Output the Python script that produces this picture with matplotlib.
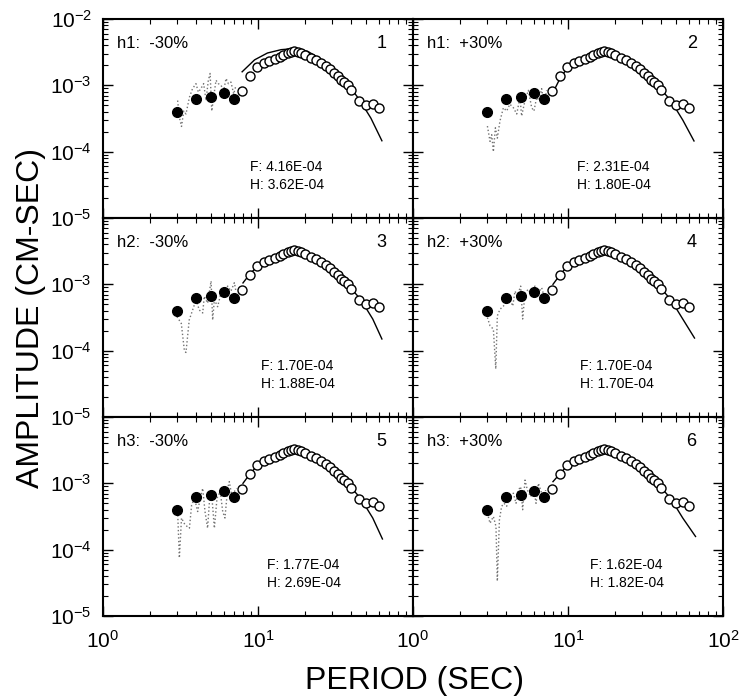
import matplotlib
matplotlib.use("Agg")
import matplotlib.pyplot as plt
from matplotlib.ticker import LogLocator, NullFormatter

plt.rcParams['font.family'] = ['Liberation Sans', 'DejaVu Sans']
plt.rcParams['mathtext.default'] = 'regular'

# observed spectrum (same in every panel)
filled_period = [3, 4, 5, 6, 7]
filled_amp = [3.9e-4, 6.3e-4, 6.6e-4, 7.7e-4, 6.3e-4]

open_period = [7.9, 8.9, 9.9, 10.9, 11.8, 12.8, 13.8, 14.6, 15.5, 16.3, 17.1, 18.0,
               19.0, 20.2, 22.0, 23.7, 25.5, 27.4, 29.3, 31.1, 32.6, 34.3, 36.0, 37.9,
               39.8, 45.0, 50.0, 55.0, 60.5]
open_amp = [8.1e-4, 1.37e-3, 1.91e-3, 2.15e-3, 2.34e-3, 2.48e-3, 2.67e-3, 2.90e-3,
            3.07e-3, 3.18e-3, 3.26e-3, 3.22e-3, 3.07e-3, 2.90e-3, 2.57e-3, 2.37e-3,
            2.15e-3, 1.96e-3, 1.76e-3, 1.55e-3, 1.37e-3, 1.22e-3, 1.12e-3, 1.0e-3,
            8.6e-4, 5.9e-4, 5.0e-4, 5.2e-4, 4.6e-4]

# model curves (solid)
model_p1 = [7.9, 9.5, 11.5, 14.1, 17.1, 20.9, 28.2, 37.9, 45.5, 53.5, 63.0]
model_a1 = [1.6e-3, 2.42e-3, 3.07e-3, 3.45e-3, 3.58e-3, 3.26e-3, 2.15e-3, 1.06e-3,
            5.9e-4, 3.2e-4, 1.46e-4]
model_p2 = [8.0, 9.0, 10.0, 11.5, 13.5, 16.0, 17.5, 19.0, 22.0, 26.0, 30.0, 35.0,
            40.0, 46.0, 55.0, 65.0]
model_a2 = [7.8e-4, 1.35e-3, 1.85e-3, 2.3e-3, 2.7e-3, 3.1e-3, 3.25e-3, 3.1e-3,
            2.6e-3, 2.05e-3, 1.6e-3, 1.15e-3, 8.6e-4, 5.9e-4, 3.0e-4, 1.45e-4]
model_p3 = [8.0, 8.9, 10.0, 11.5, 13.5, 16.0, 17.5, 19.0, 22.0, 26.0, 30.0, 35.0,
            40.0, 46.0, 55.0, 63.0]
model_a3 = [1.05e-3, 1.45e-3, 1.9e-3, 2.3e-3, 2.7e-3, 3.1e-3, 3.2e-3, 3.1e-3,
            2.6e-3, 2.05e-3, 1.6e-3, 1.15e-3, 8.6e-4, 5.9e-4, 3.0e-4, 1.5e-4]
model_p4 = [8.0, 9.1, 10.0, 11.5, 13.5, 16.0, 17.5, 19.0, 22.0, 26.0, 30.0, 35.0,
            40.0, 46.0, 55.0, 65.5]
model_a4 = [1.0e-3, 1.5e-3, 1.9e-3, 2.3e-3, 2.7e-3, 3.1e-3, 3.2e-3, 3.1e-3,
            2.6e-3, 2.05e-3, 1.6e-3, 1.15e-3, 8.6e-4, 5.9e-4, 3.0e-4, 1.55e-4]
model_p5 = [8.0, 8.9, 10.0, 11.5, 13.5, 16.0, 17.5, 19.0, 22.0, 26.0, 30.0, 35.0,
            40.0, 46.0, 55.0, 63.5]
model_a5 = [1.0e-3, 1.4e-3, 1.9e-3, 2.3e-3, 2.7e-3, 3.1e-3, 3.2e-3, 3.1e-3,
            2.6e-3, 2.05e-3, 1.6e-3, 1.15e-3, 8.6e-4, 5.9e-4, 3.0e-4, 1.45e-4]
model_p6 = [8.0, 9.0, 10.0, 11.5, 13.5, 16.0, 17.5, 19.0, 22.0, 26.0, 30.0, 35.0,
            40.0, 46.0, 55.0, 66.5]
model_a6 = [1.06e-3, 1.45e-3, 1.9e-3, 2.3e-3, 2.7e-3, 3.1e-3, 3.2e-3, 3.1e-3,
            2.6e-3, 2.05e-3, 1.6e-3, 1.15e-3, 8.6e-4, 5.9e-4, 3.0e-4, 1.58e-4]

# synthetic short-period spectrum (dotted)
dot_p1 = [3.03, 3.11, 3.21, 3.32, 3.43, 3.61, 3.78, 3.98, 4.12, 4.28, 4.46, 4.62,
          4.78, 4.91, 5.03, 5.17, 5.36, 5.55, 5.77, 6.01, 6.22, 6.44, 6.69, 6.97, 7.21]
dot_a1 = [5.9e-4, 3.3e-4, 2.4e-4, 4.1e-4, 3.7e-4, 6.6e-4, 8.9e-4, 1.06e-3, 7.9e-4,
          8.9e-4, 1.06e-3, 5.9e-4, 1.19e-3, 1.51e-3, 4.1e-4, 6.6e-4, 1.19e-3, 1.06e-3,
          1.0e-3, 8.4e-4, 1.27e-3, 1.06e-3, 1.12e-3, 7.4e-4, 1.0e-3]
dot_p2 = [3.02, 3.14, 3.22, 3.30, 3.40, 3.50, 3.64, 3.83, 4.02, 4.22, 4.44, 4.67,
          4.90, 5.02, 5.28, 5.55, 5.83, 6.03, 6.28, 6.50, 6.76, 7.00, 7.28]
dot_a2 = [2.43e-4, 1.43e-4, 1.8e-4, 1.0e-4, 2.29e-4, 1.6e-4, 2.9e-4, 4.6e-4, 4.1e-4,
          5.2e-4, 4.6e-4, 3.7e-4, 6.6e-4, 3.45e-4, 5.9e-4, 8.4e-4, 4.6e-4, 4.1e-4,
          6.6e-4, 5.9e-4, 8.9e-4, 5.2e-4, 8.4e-4]
dot_p3 = [3.0, 3.2, 3.35, 3.43, 3.6, 3.85, 3.98, 4.18, 4.4, 4.5, 4.73, 4.98, 5.1,
          5.23, 5.49, 5.77, 6.06, 6.37, 6.69, 7.04, 7.2]
dot_a3 = [3.26e-4, 2.57e-4, 1.0e-4, 9.4e-5, 2.9e-4, 4.6e-4, 5.9e-4, 4.1e-4, 3.7e-4,
          6.6e-4, 5.2e-4, 1.12e-3, 2.9e-4, 5.9e-4, 4.6e-4, 7.4e-4, 6.6e-4, 9.4e-4,
          7.9e-4, 1.06e-3, 7.9e-4]
dot_p4 = [3.02, 3.14, 3.30, 3.42, 3.50, 3.64, 3.83, 4.02, 4.22, 4.40, 4.55, 4.71,
          4.95, 5.10, 5.28, 5.55, 5.83, 6.12, 6.44, 6.76, 7.0]
dot_a4 = [3.16e-4, 2.37e-4, 2.11e-4, 5.3e-5, 3.35e-4, 4.2e-4, 4.7e-4, 5.3e-4, 6.0e-4,
          4.7e-4, 7.9e-4, 6.7e-4, 9.4e-4, 3.0e-4, 7.5e-4, 8.4e-4, 6.7e-4, 9.4e-4,
          7.5e-4, 8.9e-4, 6.7e-4]
dot_p5 = [3.03, 3.11, 3.21, 3.38, 3.61, 3.73, 3.89, 4.08, 4.24, 4.4, 4.55, 4.73,
          4.86, 5.03, 5.23, 5.44, 5.71, 5.92, 6.12, 6.37, 6.53, 6.76, 7.04, 7.28]
dot_a5 = [3.76e-4, 7.5e-5, 3.0e-4, 2.37e-4, 2.11e-4, 4.7e-4, 6.0e-4, 3.76e-4, 6.0e-4,
          8.4e-4, 3.76e-4, 2.11e-4, 5.3e-4, 6.7e-4, 2.11e-4, 6.0e-4, 7.5e-4, 3.76e-4,
          3.0e-4, 8.4e-4, 1.06e-3, 6.7e-4, 7.5e-4, 8.4e-4]
dot_p6 = [3.02, 3.14, 3.30, 3.43, 3.50, 3.61, 3.73, 3.87, 4.02, 4.22, 4.44, 4.62,
          4.78, 4.95, 5.10, 5.28, 5.47, 5.74, 5.98, 6.22, 6.44, 6.66, 6.93, 7.18]
dot_a6 = [3.55e-4, 2.5e-4, 3.16e-4, 2.24e-4, 3.35e-5, 2.8e-4, 4.5e-4, 5.0e-4, 4.5e-4,
          6.3e-4, 7.1e-4, 5.0e-4, 7.9e-4, 8.9e-4, 4.0e-4, 1.12e-3, 7.9e-4, 6.3e-4,
          8.9e-4, 5.0e-4, 1.0e-3, 7.9e-4, 6.0e-4, 7.9e-4]

case_labels = ['h1:  -30%', 'h1:  +30%', 'h2:  -30%', 'h2:  +30%', 'h3:  -30%', 'h3:  +30%']
f_values = ['4.16E-04', '2.31E-04', '1.70E-04', '1.70E-04', '1.77E-04', '1.62E-04']
h_values = ['3.62E-04', '1.80E-04', '1.88E-04', '1.70E-04', '2.69E-04', '1.82E-04']

models = [(model_p1, model_a1), (model_p2, model_a2), (model_p3, model_a3),
          (model_p4, model_a4), (model_p5, model_a5), (model_p6, model_a6)]
dots = [(dot_p1, dot_a1), (dot_p2, dot_a2), (dot_p3, dot_a3),
        (dot_p4, dot_a4), (dot_p5, dot_a5), (dot_p6, dot_a6)]
text_x = [0.474, 0.53, 0.51, 0.54, 0.53, 0.57]

W, H = 747, 697
fig = plt.figure(figsize=(W / 100, H / 100), dpi=100)

left_px = [103, 413]
top_px = [19, 218, 417]
pw, ph = 310, 199

for i in range(6):
    row, col = i // 2, i % 2
    ax = fig.add_axes([left_px[col] / W, 1 - (top_px[row] + ph) / H, pw / W, ph / H])
    ax.set_xscale('log')
    ax.set_yscale('log')
    ax.set_xlim(1, 100)
    ax.set_ylim(1e-5, 1e-2)

    dp, da = dots[i]
    ax.plot(dp, da, ls=':', color='0.45', lw=1.0)
    mp, ma = models[i]
    ax.plot(mp, ma, color='black', lw=1.0)
    ax.plot(open_period, open_amp, 'o', mfc='white', mec='black', ms=6.5, mew=1.0)
    ax.plot(filled_period, filled_amp, 'o', color='black', ms=7)

    ax.text(0.045, 0.875, case_labels[i], transform=ax.transAxes, fontsize=12,
            va='center', ha='left')
    ax.text(0.915, 0.875, str(i + 1), transform=ax.transAxes, fontsize=13,
            va='center', ha='right')
    ax.text(text_x[i], 0.255, 'F: ' + f_values[i], transform=ax.transAxes,
            fontsize=10, va='center', ha='left')
    ax.text(text_x[i], 0.165, 'H: ' + h_values[i], transform=ax.transAxes,
            fontsize=10, va='center', ha='left')

    ax.xaxis.set_minor_locator(LogLocator(base=10, subs=range(2, 10)))
    ax.yaxis.set_minor_locator(LogLocator(base=10, subs=range(2, 10)))
    ax.xaxis.set_minor_formatter(NullFormatter())
    ax.yaxis.set_minor_formatter(NullFormatter())
    ax.tick_params(which='both', direction='in', top=True, right=True,
                   labelsize=15)
    ax.tick_params(axis='x', pad=10)
    ax.tick_params(axis='y', pad=8)
    ax.tick_params(which='major', length=7, width=1.0)
    ax.tick_params(which='minor', length=3.5, width=0.8)
    for s in ax.spines.values():
        s.set_linewidth(1.5)

    ax.set_yticks([1e-5, 1e-4, 1e-3, 1e-2])
    if col == 0:
        ylabs = [r'$10^{-5}$', r'$10^{-4}$', r'$10^{-3}$', r'$10^{-2}$' if row == 0 else '']
        ax.set_yticklabels(ylabs)
    else:
        ax.set_yticklabels([])

    ax.set_xticks([1, 10, 100])
    if row == 2:
        if col == 0:
            ax.set_xticklabels([r'$10^{0}$', r'$10^{1}$', ''])
        else:
            ax.set_xticklabels([r'$10^{0}$', r'$10^{1}$', r'$10^{2}$'])
    else:
        ax.set_xticklabels([])

fig.text(0.555, 1 - 681 / H, 'PERIOD (SEC)', fontsize=23, ha='center', va='center')
fig.text(0.042, 1 - 318 / H, 'AMPLITUDE (CM-SEC)', fontsize=23, ha='center',
         va='center', rotation=90)

fig.savefig('out.png', dpi=100)
